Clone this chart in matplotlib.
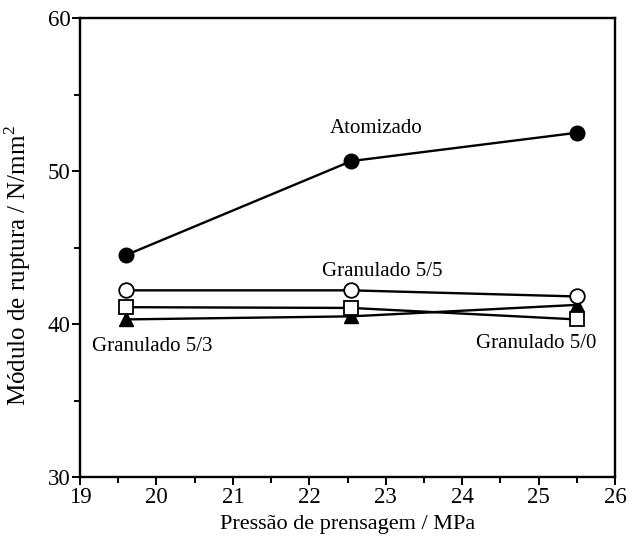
import matplotlib
matplotlib.use("Agg")
import matplotlib.pyplot as plt
from matplotlib.ticker import MultipleLocator

plt.rcParams['font.family'] = ['Liberation Serif', 'DejaVu Serif']
plt.rcParams['mathtext.fontset'] = 'custom'
plt.rcParams['mathtext.rm'] = 'Liberation Serif'

# data
pressure = [19.6, 22.55, 25.5]
atomizado = [44.5, 50.65, 52.5]
gran_55 = [42.2, 42.2, 41.8]
gran_50 = [41.1, 41.05, 40.3]
gran_53 = [40.3, 40.5, 41.25]

fig = plt.figure(figsize=(6.38, 5.41), dpi=100)
ax = fig.add_axes([0.1254, 0.1183, 0.8386, 0.8484])

lw = 1.7
ax.plot(pressure, gran_53, color='k', lw=lw, marker='^', ms=10, mfc='k', mec='k', zorder=3)
ax.plot(pressure, gran_50, color='k', lw=lw, marker='s', ms=9.5, mfc='white', mec='k', mew=1.3, zorder=4)
ax.plot(pressure, gran_55, color='k', lw=lw, marker='o', ms=10.5, mfc='white', mec='k', mew=1.3, zorder=5)
ax.plot(pressure, atomizado, color='k', lw=lw, marker='o', ms=10.5, mfc='k', mec='k', zorder=5)

# curve labels
ax.text(22.88, 52.8, 'Atomizado', ha='center', va='center', fontsize=15)
ax.text(22.95, 43.45, 'Granulado 5/5', ha='center', va='center', fontsize=15)
ax.text(19.95, 38.5, 'Granulado 5/3', ha='center', va='center', fontsize=15)
ax.text(24.97, 38.75, 'Granulado 5/0', ha='center', va='center', fontsize=15)

ax.set_xlim(19, 26)
ax.set_ylim(30, 60)
ax.xaxis.set_major_locator(MultipleLocator(1))
ax.xaxis.set_minor_locator(MultipleLocator(0.5))
ax.yaxis.set_major_locator(MultipleLocator(10))
ax.yaxis.set_minor_locator(MultipleLocator(5))
ax.tick_params(which='both', direction='out', width=1.4, labelsize=16.5, pad=1)
ax.tick_params(which='major', length=6)
ax.tick_params(which='minor', length=4)
for sp in ax.spines.values():
    sp.set_linewidth(1.7)

ax.set_xlabel('Pressão de prensagem / MPa', fontsize=16, labelpad=5)
ax.set_ylabel('Módulo de ruptura / N/mm$^2$', fontsize=18)
ax.yaxis.set_label_coords(-0.088, 0.46)

fig.savefig('out.png', dpi=100)
